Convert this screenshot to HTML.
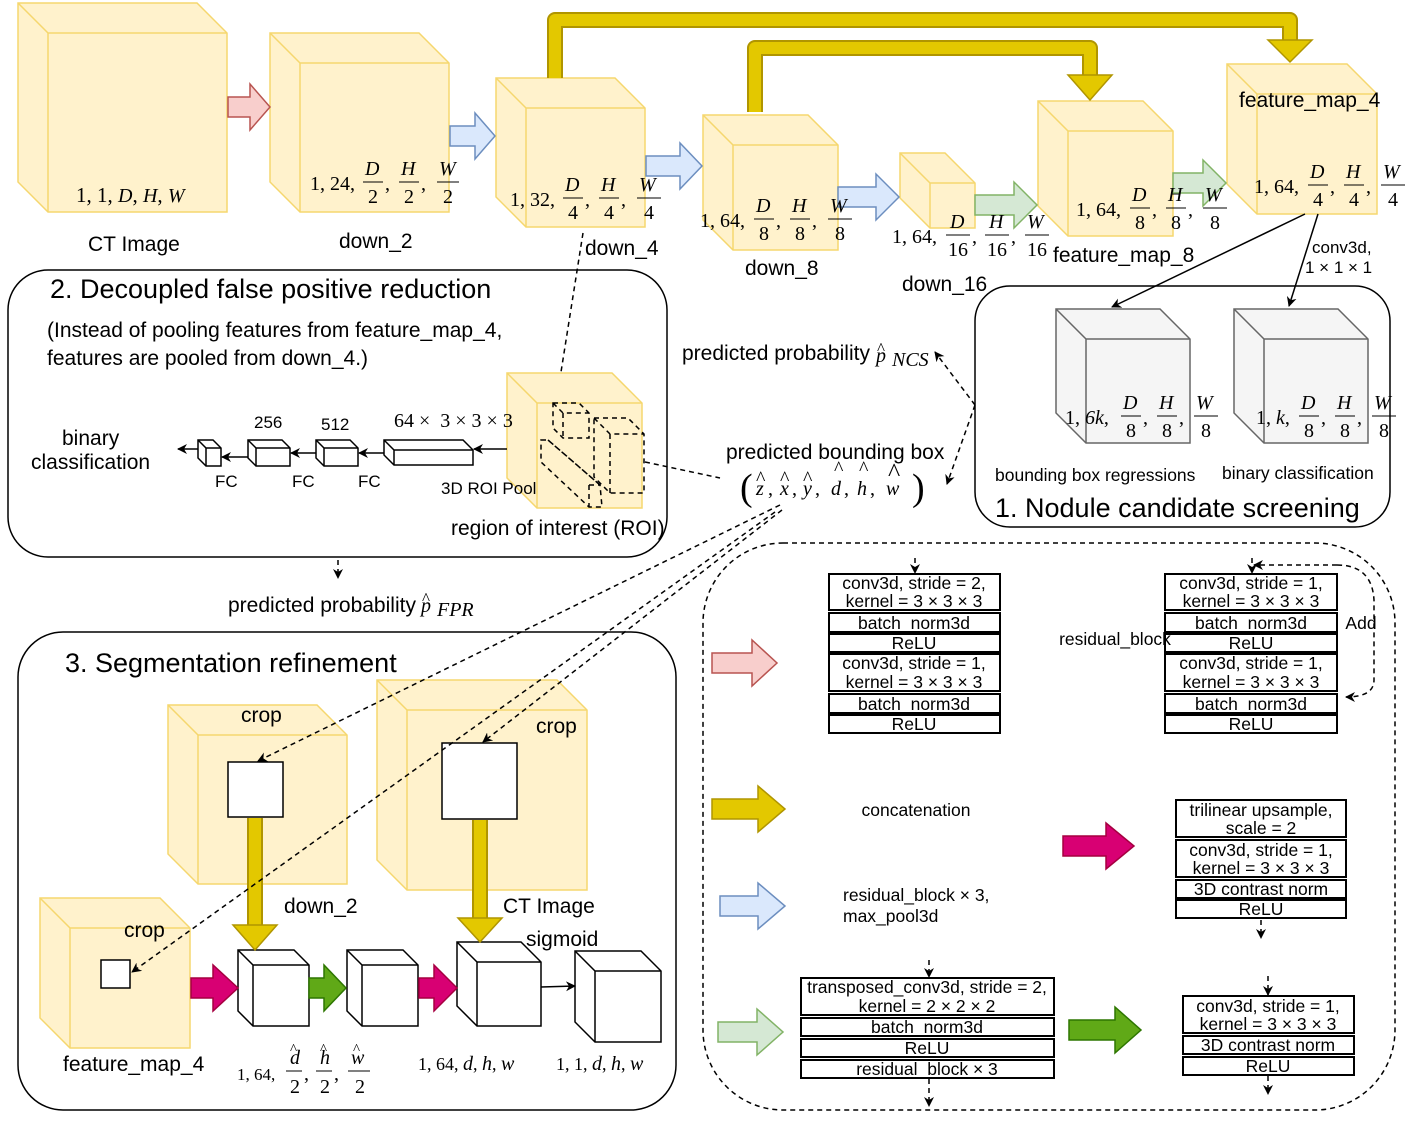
<!DOCTYPE html>
<html><head><meta charset="utf-8"><style>
html,body{margin:0;padding:0;background:#fff;}
svg{display:block;}
.s{font-family:"Liberation Sans",sans-serif;font-size:21px;fill:#000;}
.m{font-family:"Liberation Serif",serif;font-size:20px;fill:#000;}
.mi{font-family:"Liberation Serif",serif;font-style:italic;font-size:20px;fill:#000;}
.t{font-family:"Liberation Sans",sans-serif;font-size:17.5px;fill:#000;text-anchor:middle;}
.y{fill:#fff2cc;stroke:#f5d76e;stroke-width:1.5;}
.yl{fill:none;stroke:#f5d76e;stroke-width:1.5;}
.g{fill:#f5f5f5;stroke:#666;stroke-width:1.5;}
.gl{fill:none;stroke:#666;stroke-width:1.5;}
.w{fill:#fff;stroke:#000;stroke-width:1.5;}
.wl{fill:none;stroke:#000;stroke-width:1.5;}
.d{fill:none;stroke:#000;stroke-width:1.5;stroke-dasharray:5,4;}
.rb{fill:#fff;stroke:#000;stroke-width:2;}
</style></head><body>
<svg width="1425" height="1123" viewBox="0 0 1425 1123" xmlns="http://www.w3.org/2000/svg">
<defs>
<marker id="ah" markerWidth="10" markerHeight="10" refX="9" refY="5" orient="auto" markerUnits="userSpaceOnUse"><path d="M0,0 L10,5 L0,10 L3,5 Z" fill="#000"/></marker>
</defs>

<rect x="8" y="270" width="659" height="287" rx="40" fill="none" stroke="#000" stroke-width="1.5"/>
<rect x="975" y="286" width="415" height="241" rx="35" fill="none" stroke="#000" stroke-width="1.5"/>
<rect x="18" y="632" width="658" height="478" rx="45" fill="none" stroke="#000" stroke-width="1.5"/>
<rect x="703" y="543" width="692" height="567" rx="80" fill="none" stroke="#000" stroke-width="1.5" stroke-dasharray="5,4"/>

<g>
<path class="y" d="M18,3 L197,3 L227,33 L227,212 L48,212 L18,182 Z"/><path class="yl" d="M18,3 L48,33 L227,33 M48,33 L48,212"/>
<path class="y" d="M270,33 L419,33 L449,63 L449,212 L300,212 L270,182 Z"/><path class="yl" d="M270,33 L300,63 L449,63 M300,63 L300,212"/>
<path class="y" d="M496,78 L615,78 L645,108 L645,227 L526,227 L496,197 Z"/><path class="yl" d="M496,78 L526,108 L645,108 M526,108 L526,227"/>
<path class="y" d="M703,115 L808,115 L838,145 L838,250 L733,250 L703,220 Z"/><path class="yl" d="M703,115 L733,145 L838,145 M733,145 L733,250"/>
<path class="y" d="M900,153 L945,153 L975,183 L975,228 L930,228 L900,198 Z"/><path class="yl" d="M900,153 L930,183 L975,183 M930,183 L930,228"/>
<path class="y" d="M1038,101 L1143,101 L1173,131 L1173,236 L1068,236 L1038,206 Z"/><path class="yl" d="M1038,101 L1068,131 L1173,131 M1068,131 L1068,236"/>
<path class="y" d="M1227,64 L1347,64 L1377,94 L1377,214 L1257,214 L1227,184 Z"/><path class="yl" d="M1227,64 L1257,94 L1377,94 M1257,94 L1257,214"/>
<path class="g" d="M1056,309 L1160,309 L1190,339 L1190,443 L1086,443 L1056,413 Z"/><path class="gl" d="M1056,309 L1086,339 L1190,339 M1086,339 L1086,443"/>
<path class="g" d="M1234,309 L1338,309 L1368,339 L1368,443 L1264,443 L1234,413 Z"/><path class="gl" d="M1234,309 L1264,339 L1368,339 M1264,339 L1264,443"/>
<path class="y" d="M507,373 L612,373 L642,403 L642,508 L537,508 L507,478 Z"/><path class="yl" d="M507,373 L537,403 L642,403 M537,403 L537,508"/>
<path class="d" d="M553,403 L579,403 L589,413 L589,438 L563,438 L553,428 Z M553,403 L563,413 L589,413 M563,413 L563,438"/>
<path class="d" d="M594,418 L628,418 L644,434 L644,493 L610,493 L594,477 Z M594,418 L610,434 L644,434 M610,434 L610,493"/>
<path class="d" d="M541,440 L548,440 L600,485 L602,507 L589,507 L541,462 Z M548,440 L600,485 M589,485 L600,485 M589,485 L589,507"/>
<path class="y" d="M168,705 L317,705 L347,735 L347,884 L198,884 L168,854 Z"/><path class="yl" d="M168,705 L198,735 L347,735 M198,735 L198,884"/>
<path class="y" d="M377,680 L557,680 L587,710 L587,890 L407,890 L377,860 Z"/><path class="yl" d="M377,680 L407,710 L587,710 M407,710 L407,890"/>
<path class="y" d="M40,898 L160,898 L190,928 L190,1048 L70,1048 L40,1018 Z"/><path class="yl" d="M40,898 L70,928 L190,928 M70,928 L70,1048"/>
<rect x="228" y="762" width="55" height="55" class="w"/>
<rect x="442" y="743" width="75" height="76" class="w"/>
<rect x="101" y="960" width="29" height="28" class="w"/>
<path class="w" d="M238,950 L294,950 L309,965 L309,1026 L253,1026 L238,1011 Z"/><path class="wl" d="M238,950 L253,965 L309,965 M253,965 L253,1026"/>
<path class="w" d="M347,950 L403,950 L418,965 L418,1026 L362,1026 L347,1011 Z"/><path class="wl" d="M347,950 L362,965 L418,965 M362,965 L362,1026"/>
<path class="w" d="M457,942 L521,942 L541,962 L541,1026 L477,1026 L457,1006 Z"/><path class="wl" d="M457,942 L477,962 L541,962 M477,962 L477,1026"/>
<path class="w" d="M575,951 L641,951 L661,971 L661,1042 L595,1042 L575,1022 Z"/><path class="wl" d="M575,951 L595,971 L661,971 M595,971 L595,1042"/>
<path class="w" d="M198,440 L213,440 L221,448 L221,466 L206,466 L198,458 Z"/><path class="wl" d="M198,440 L206,448 L221,448 M206,448 L206,466"/>
<path class="w" d="M248,440 L282,440 L290,448 L290,466 L256,466 L248,458 Z"/><path class="wl" d="M248,440 L256,448 L290,448 M256,448 L256,466"/>
<path class="w" d="M316,440 L350,440 L358,448 L358,466 L324,466 L316,458 Z"/><path class="wl" d="M316,440 L324,448 L358,448 M324,448 L324,466"/>
<path class="w" d="M384,440 L463,440 L473,450 L473,465 L394,465 L384,455 Z"/><path class="wl" d="M384,440 L394,450 L473,450 M394,450 L394,465"/>
</g>
<g class="wl" marker-end="url(#ah)">
<line x1="507" y1="449" x2="474" y2="449"/>
<line x1="384" y1="453" x2="359" y2="453"/>
<line x1="316" y1="453" x2="291" y2="453"/>
<line x1="248" y1="457" x2="222" y2="457"/>
<line x1="198" y1="449" x2="178" y2="449"/>
</g>

<g fill="none" stroke-linejoin="round">
<path d="M555,78 V20 H1290 V40" stroke="#b09500" stroke-width="16"/>
<path d="M555,78 V20 H1290 V42" stroke="#e3c800" stroke-width="12"/>
<path d="M755,112 V48 H1090 V75" stroke="#b09500" stroke-width="16"/>
<path d="M755,112 V48 H1090 V77" stroke="#e3c800" stroke-width="12"/>
<path d="M255,818 V925" stroke="#b09500" stroke-width="16"/>
<path d="M255,818 V927" stroke="#e3c800" stroke-width="12"/>
<path d="M480,820 V918" stroke="#b09500" stroke-width="16"/>
<path d="M480,820 V920" stroke="#e3c800" stroke-width="12"/>
</g>
<g fill="#e3c800" stroke="#b09500" stroke-width="1.5">
<polygon points="1268,40 1312,40 1290,62"/>
<polygon points="1068,75 1112,75 1090,100"/>
<polygon points="233,925 277,925 255,950"/>
<polygon points="458,918 502,918 480,942"/>
</g>

<g stroke-width="1.5">
<polygon fill="#f8cecc" stroke="#b85450" points="228,97 250,97 250,84 270,107 250,130 250,117 228,117"/>
<polygon fill="#dae8fc" stroke="#6c8ebf" points="450,126 475,126 475,113 495,136 475,159 475,146 450,146"/>
<polygon fill="#dae8fc" stroke="#6c8ebf" points="646,156 680,156 680,143 702,166 680,189 680,176 646,176"/>
<polygon fill="#dae8fc" stroke="#6c8ebf" points="838,187 876,187 876,174 899,197 876,220 876,207 838,207"/>
<polygon fill="#d5e8d4" stroke="#82b366" points="975,195 1014,195 1014,182 1037,205 1014,228 1014,215 975,215"/>
<polygon fill="#d5e8d4" stroke="#82b366" points="1173,173 1203,173 1203,160 1226,183 1203,206 1203,193 1173,193"/>
<polygon fill="#f8cecc" stroke="#b85450" points="712,653 752,653 752,640 777,663 752,686 752,673 712,673"/>
<polygon fill="#e3c800" stroke="#b09500" points="712,799 758,799 758,786 785,809 758,832 758,819 712,819"/>
<polygon fill="#dae8fc" stroke="#6c8ebf" points="720,896 758,896 758,883 785,906 758,929 758,916 720,916"/>
<polygon fill="#d5e8d4" stroke="#82b366" points="718,1022 757,1022 757,1009 783,1032 757,1055 757,1042 718,1042"/>
<polygon fill="#d80073" stroke="#a50040" points="1063,836 1106,836 1106,823 1134,846 1106,869 1106,856 1063,856"/>
<polygon fill="#60a917" stroke="#2d7600" points="1069,1020 1115,1020 1115,1007 1141,1030 1115,1053 1115,1040 1069,1040"/>
<polygon fill="#d80073" stroke="#a50040" points="191,978 213,978 213,965 238,988 213,1011 213,998 191,998"/>
<polygon fill="#60a917" stroke="#2d7600" points="309,978 324,978 324,965 346,988 324,1011 324,998 309,998"/>
<polygon fill="#d80073" stroke="#a50040" points="419,978 434,978 434,965 457,988 434,1011 434,998 419,998"/>
</g>
<line x1="541" y1="987" x2="575" y2="986" class="wl" marker-end="url(#ah)"/>

<g class="wl" marker-end="url(#ah)">
<line x1="1305" y1="214" x2="1112" y2="307"/>
<line x1="1318" y1="214" x2="1289" y2="306"/>
</g>
<g class="d">
<line x1="583" y1="233" x2="561" y2="372"/>
<line x1="645" y1="462" x2="720" y2="478"/>
<line x1="975" y1="405" x2="935" y2="352" marker-end="url(#ah)"/>
<line x1="975" y1="405" x2="947" y2="484" marker-end="url(#ah)"/>
<line x1="338" y1="560" x2="338" y2="578" marker-end="url(#ah)"/>
<line x1="780" y1="505" x2="258" y2="761" marker-end="url(#ah)"/>
<line x1="782" y1="510" x2="483" y2="742" marker-end="url(#ah)"/>
<line x1="775" y1="512" x2="132" y2="972" marker-end="url(#ah)"/>
<line x1="915" y1="558" x2="915" y2="573" marker-end="url(#ah)"/>
<line x1="1252" y1="558" x2="1252" y2="573" marker-end="url(#ah)"/>
<line x1="1261" y1="920" x2="1261" y2="938" marker-end="url(#ah)"/>
<line x1="929" y1="960" x2="929" y2="977" marker-end="url(#ah)"/>
<line x1="929" y1="1079" x2="929" y2="1106" marker-end="url(#ah)"/>
<line x1="1268" y1="976" x2="1268" y2="995" marker-end="url(#ah)"/>
<line x1="1268" y1="1076" x2="1268" y2="1094" marker-end="url(#ah)"/>
<path d="M1337,565 Q1372,565 1374,600 L1374,680 Q1374,697 1346,697" marker-end="url(#ah)"/>
<path d="M1337,565 L1254,565" marker-end="url(#ah)"/>
</g>

<g>
<rect class="rb" x="829" y="574" width="171" height="36"/><rect class="rb" x="829" y="613" width="171" height="19"/><rect class="rb" x="829" y="634" width="171" height="18"/><rect class="rb" x="829" y="654" width="171" height="37"/><rect class="rb" x="829" y="694" width="171" height="19"/><rect class="rb" x="829" y="715" width="171" height="18"/>
<rect class="rb" x="1165" y="574" width="172" height="36"/><rect class="rb" x="1165" y="613" width="172" height="19"/><rect class="rb" x="1165" y="634" width="172" height="18"/><rect class="rb" x="1165" y="654" width="172" height="37"/><rect class="rb" x="1165" y="694" width="172" height="19"/><rect class="rb" x="1165" y="715" width="172" height="18"/>
<rect class="rb" x="1176" y="800" width="170" height="37"/><rect class="rb" x="1176" y="840" width="170" height="37"/><rect class="rb" x="1176" y="880" width="170" height="18"/><rect class="rb" x="1176" y="900" width="170" height="18"/>
<rect class="rb" x="801" y="978" width="253" height="37"/><rect class="rb" x="801" y="1018" width="253" height="18"/><rect class="rb" x="801" y="1039" width="253" height="18"/><rect class="rb" x="801" y="1060" width="253" height="18"/>
<rect class="rb" x="1183" y="996" width="171" height="37"/><rect class="rb" x="1183" y="1036" width="171" height="18"/><rect class="rb" x="1183" y="1057" width="171" height="18"/>
</g>
<g class="t">
<text x="914" y="589">conv3d, stride = 2,</text><text x="914" y="607">kernel = 3 × 3 × 3</text>
<text x="914" y="629">batch_norm3d</text><text x="914" y="649">ReLU</text>
<text x="914" y="669">conv3d, stride = 1,</text><text x="914" y="688">kernel = 3 × 3 × 3</text>
<text x="914" y="710">batch_norm3d</text><text x="914" y="730">ReLU</text>
<text x="1251" y="589">conv3d, stride = 1,</text><text x="1251" y="607">kernel = 3 × 3 × 3</text>
<text x="1251" y="629">batch_norm3d</text><text x="1251" y="649">ReLU</text>
<text x="1251" y="669">conv3d, stride = 1,</text><text x="1251" y="688">kernel = 3 × 3 × 3</text>
<text x="1251" y="710">batch_norm3d</text><text x="1251" y="730">ReLU</text>
<text x="1261" y="816">trilinear upsample,</text><text x="1261" y="834">scale = 2</text>
<text x="1261" y="856">conv3d, stride = 1,</text><text x="1261" y="874">kernel = 3 × 3 × 3</text>
<text x="1261" y="895">3D contrast norm</text><text x="1261" y="915">ReLU</text>
<text x="927" y="993">transposed_conv3d, stride = 2,</text><text x="927" y="1012">kernel = 2 × 2 × 2</text>
<text x="927" y="1033">batch_norm3d</text><text x="927" y="1054">ReLU</text><text x="927" y="1075">residual_block × 3</text>
<text x="1268" y="1012">conv3d, stride = 1,</text><text x="1268" y="1030">kernel = 3 × 3 × 3</text>
<text x="1268" y="1051">3D contrast norm</text><text x="1268" y="1072">ReLU</text>
<text x="1115" y="645">residual_block</text><text x="1361" y="629">Add</text>
<text x="916" y="816">concatenation</text>
<text x="843" y="901" text-anchor="start">residual_block × 3,</text><text x="843" y="922" text-anchor="start">max_pool3d</text>
</g>

<g class="s">
<text x="88" y="251">CT Image</text>
<text x="339" y="248">down_2</text>
<text x="585" y="255">down_4</text>
<text x="745" y="275">down_8</text>
<text x="902" y="291">down_16</text>
<text x="1053" y="262">feature_map_8</text>
<text x="1239" y="107">feature_map_4</text>
<text x="1312" y="253" font-size="17">conv3d,</text>
<text x="1305" y="273" font-size="17">1 × 1 × 1</text>
<text x="50" y="298" font-size="27">2. Decoupled false positive reduction</text>
<text x="47" y="337">(Instead of pooling features from feature_map_4,</text>
<text x="47" y="365">features are pooled from down_4.)</text>
<text x="62" y="445">binary</text><text x="31" y="469">classification</text>
<text x="254" y="428" font-size="17">256</text><text x="321" y="430" font-size="17">512</text>
<text x="215" y="487" font-size="17">FC</text><text x="292" y="487" font-size="17">FC</text><text x="358" y="487" font-size="17">FC</text>
<text x="441" y="494" font-size="17">3D ROI Pool</text>
<text x="451" y="535">region of interest (ROI)</text>
<text x="682" y="360">predicted probability</text>
<text x="726" y="459">predicted bounding box</text>
<text x="995" y="481" font-size="17.5">bounding box regressions</text>
<text x="1222" y="479" font-size="17.5">binary classification</text>
<text x="995" y="517" font-size="27">1. Nodule candidate screening</text>
<text x="228" y="612">predicted probability</text>
<text x="65" y="672" font-size="27">3. Segmentation refinement</text>
<text x="241" y="722">crop</text><text x="536" y="733">crop</text><text x="124" y="937">crop</text>
<text x="284" y="913">down_2</text><text x="503" y="913">CT Image</text><text x="526" y="946">sigmoid</text>
<text x="63" y="1071">feature_map_4</text>
</g>
<g class="m">
<text x="76" y="202" font-size="21">1, 1, <tspan class="mi" font-size="21">D</tspan>, <tspan class="mi" font-size="21">H</tspan>, <tspan class="mi" font-size="21">W</tspan></text>
<text x="876" y="362" class="mi" font-size="22">p</text><text x="892" y="366" class="mi" font-size="16">NCS</text><text x="877" y="354" font-size="17">^</text>
<text x="421" y="612" class="mi" font-size="22">p</text><text x="437" y="616" class="mi" font-size="16">FPR</text><text x="422" y="604" font-size="17">^</text>
<text x="394" y="427">64 × &#160;3 × 3 × 3</text>
<text x="740" y="500" font-size="38">(</text><text x="912" y="500" font-size="38">)</text>
<g class="mi" font-size="22">
<text x="756" y="495">z</text><text x="768" y="495" font-style="normal">,</text>
<text x="780" y="495">x</text><text x="792" y="495" font-style="normal">,</text>
<text x="803" y="495">y</text><text x="815" y="495" font-style="normal">,</text>
<text x="831" y="495">d</text><text x="844" y="495" font-style="normal">,</text>
<text x="857" y="495">h</text><text x="870" y="495" font-style="normal">,</text>
<text x="886" y="495">w</text>
</g>
<g font-size="20">
<text x="756" y="485">^</text><text x="780" y="485">^</text><text x="803" y="485">^</text><text x="834" y="475">^</text><text x="859" y="475">^</text><text x="888" y="481" font-size="26">^</text>
</g>
</g>
<g class="m">
<text x="310" y="190">1, 24,</text>
<text x="365" y="175" class="mi">D</text><line x1="363" y1="182" x2="383" y2="182" stroke="#000"/><text x="368" y="203">2</text><text x="385" y="190">,</text>
<text x="401" y="175" class="mi">H</text><line x1="399" y1="182" x2="419" y2="182" stroke="#000"/><text x="404" y="203">2</text><text x="421" y="190">,</text>
<text x="439" y="175" class="mi">W</text><line x1="437" y1="182" x2="459" y2="182" stroke="#000"/><text x="443" y="203">2</text>

<text x="510" y="206">1, 32,</text>
<text x="565" y="191" class="mi">D</text><line x1="563" y1="198" x2="583" y2="198" stroke="#000"/><text x="568" y="219">4</text><text x="585" y="206">,</text>
<text x="601" y="191" class="mi">H</text><line x1="599" y1="198" x2="619" y2="198" stroke="#000"/><text x="604" y="219">4</text><text x="621" y="206">,</text>
<text x="639" y="191" class="mi">W</text><line x1="637" y1="198" x2="661" y2="198" stroke="#000"/><text x="644" y="219">4</text>

<text x="700" y="227">1, 64,</text>
<text x="756" y="212" class="mi">D</text><line x1="754" y1="219" x2="774" y2="219" stroke="#000"/><text x="759" y="240">8</text><text x="776" y="227">,</text>
<text x="792" y="212" class="mi">H</text><line x1="790" y1="219" x2="810" y2="219" stroke="#000"/><text x="795" y="240">8</text><text x="812" y="227">,</text>
<text x="830" y="212" class="mi">W</text><line x1="828" y1="219" x2="852" y2="219" stroke="#000"/><text x="835" y="240">8</text>

<text x="892" y="243">1, 64,</text>
<text x="950" y="228" class="mi">D</text><line x1="946" y1="235" x2="970" y2="235" stroke="#000"/><text x="948" y="256">16</text><text x="972" y="243">,</text>
<text x="989" y="228" class="mi">H</text><line x1="985" y1="235" x2="1009" y2="235" stroke="#000"/><text x="987" y="256">16</text><text x="1011" y="243">,</text>
<text x="1027" y="228" class="mi">W</text><line x1="1025" y1="235" x2="1049" y2="235" stroke="#000"/><text x="1027" y="256">16</text>

<text x="1076" y="216">1, 64,</text>
<text x="1132" y="201" class="mi">D</text><line x1="1130" y1="208" x2="1150" y2="208" stroke="#000"/><text x="1135" y="229">8</text><text x="1152" y="216">,</text>
<text x="1168" y="201" class="mi">H</text><line x1="1166" y1="208" x2="1186" y2="208" stroke="#000"/><text x="1171" y="229">8</text><text x="1188" y="216">,</text>
<text x="1205" y="201" class="mi">W</text><line x1="1203" y1="208" x2="1227" y2="208" stroke="#000"/><text x="1210" y="229">8</text>

<text x="1254" y="193">1, 64,</text>
<text x="1310" y="178" class="mi">D</text><line x1="1308" y1="185" x2="1328" y2="185" stroke="#000"/><text x="1313" y="206">4</text><text x="1330" y="193">,</text>
<text x="1346" y="178" class="mi">H</text><line x1="1344" y1="185" x2="1364" y2="185" stroke="#000"/><text x="1349" y="206">4</text><text x="1366" y="193">,</text>
<text x="1383" y="178" class="mi">W</text><line x1="1381" y1="185" x2="1405" y2="185" stroke="#000"/><text x="1388" y="206">4</text>

<text x="1065" y="424">1, <tspan class="mi">6k</tspan>,</text>
<text x="1123" y="409" class="mi">D</text><line x1="1121" y1="416" x2="1141" y2="416" stroke="#000"/><text x="1126" y="437">8</text><text x="1143" y="424">,</text>
<text x="1159" y="409" class="mi">H</text><line x1="1157" y1="416" x2="1177" y2="416" stroke="#000"/><text x="1162" y="437">8</text><text x="1179" y="424">,</text>
<text x="1196" y="409" class="mi">W</text><line x1="1194" y1="416" x2="1218" y2="416" stroke="#000"/><text x="1201" y="437">8</text>

<text x="1256" y="424">1, <tspan class="mi">k</tspan>,</text>
<text x="1301" y="409" class="mi">D</text><line x1="1299" y1="416" x2="1319" y2="416" stroke="#000"/><text x="1304" y="437">8</text><text x="1321" y="424">,</text>
<text x="1337" y="409" class="mi">H</text><line x1="1335" y1="416" x2="1355" y2="416" stroke="#000"/><text x="1340" y="437">8</text><text x="1357" y="424">,</text>
<text x="1374" y="409" class="mi">W</text><line x1="1372" y1="416" x2="1396" y2="416" stroke="#000"/><text x="1379" y="437">8</text>

<text x="237" y="1080" font-size="17">1, 64,</text>
<text x="290" y="1064" class="mi">d</text><text x="290" y="1054" font-size="15">^</text><line x1="286" y1="1071" x2="302" y2="1071" stroke="#000"/><text x="290" y="1093">2</text><text x="304" y="1080">,</text>
<text x="320" y="1064" class="mi">h</text><text x="320" y="1054" font-size="15">^</text><line x1="316" y1="1071" x2="332" y2="1071" stroke="#000"/><text x="320" y="1093">2</text><text x="334" y="1080">,</text>
<text x="351" y="1064" class="mi">w</text><text x="353" y="1054" font-size="15">^</text><line x1="348" y1="1071" x2="370" y2="1071" stroke="#000"/><text x="355" y="1093">2</text>

<text x="418" y="1070" font-size="18">1, 64, <tspan class="mi" font-size="18">d</tspan>, <tspan class="mi" font-size="18">h</tspan>, <tspan class="mi" font-size="18">w</tspan></text>
<text x="556" y="1070" font-size="18">1, 1, <tspan class="mi" font-size="18">d</tspan>, <tspan class="mi" font-size="18">h</tspan>, <tspan class="mi" font-size="18">w</tspan></text>
</g>
</svg>
</body></html>
